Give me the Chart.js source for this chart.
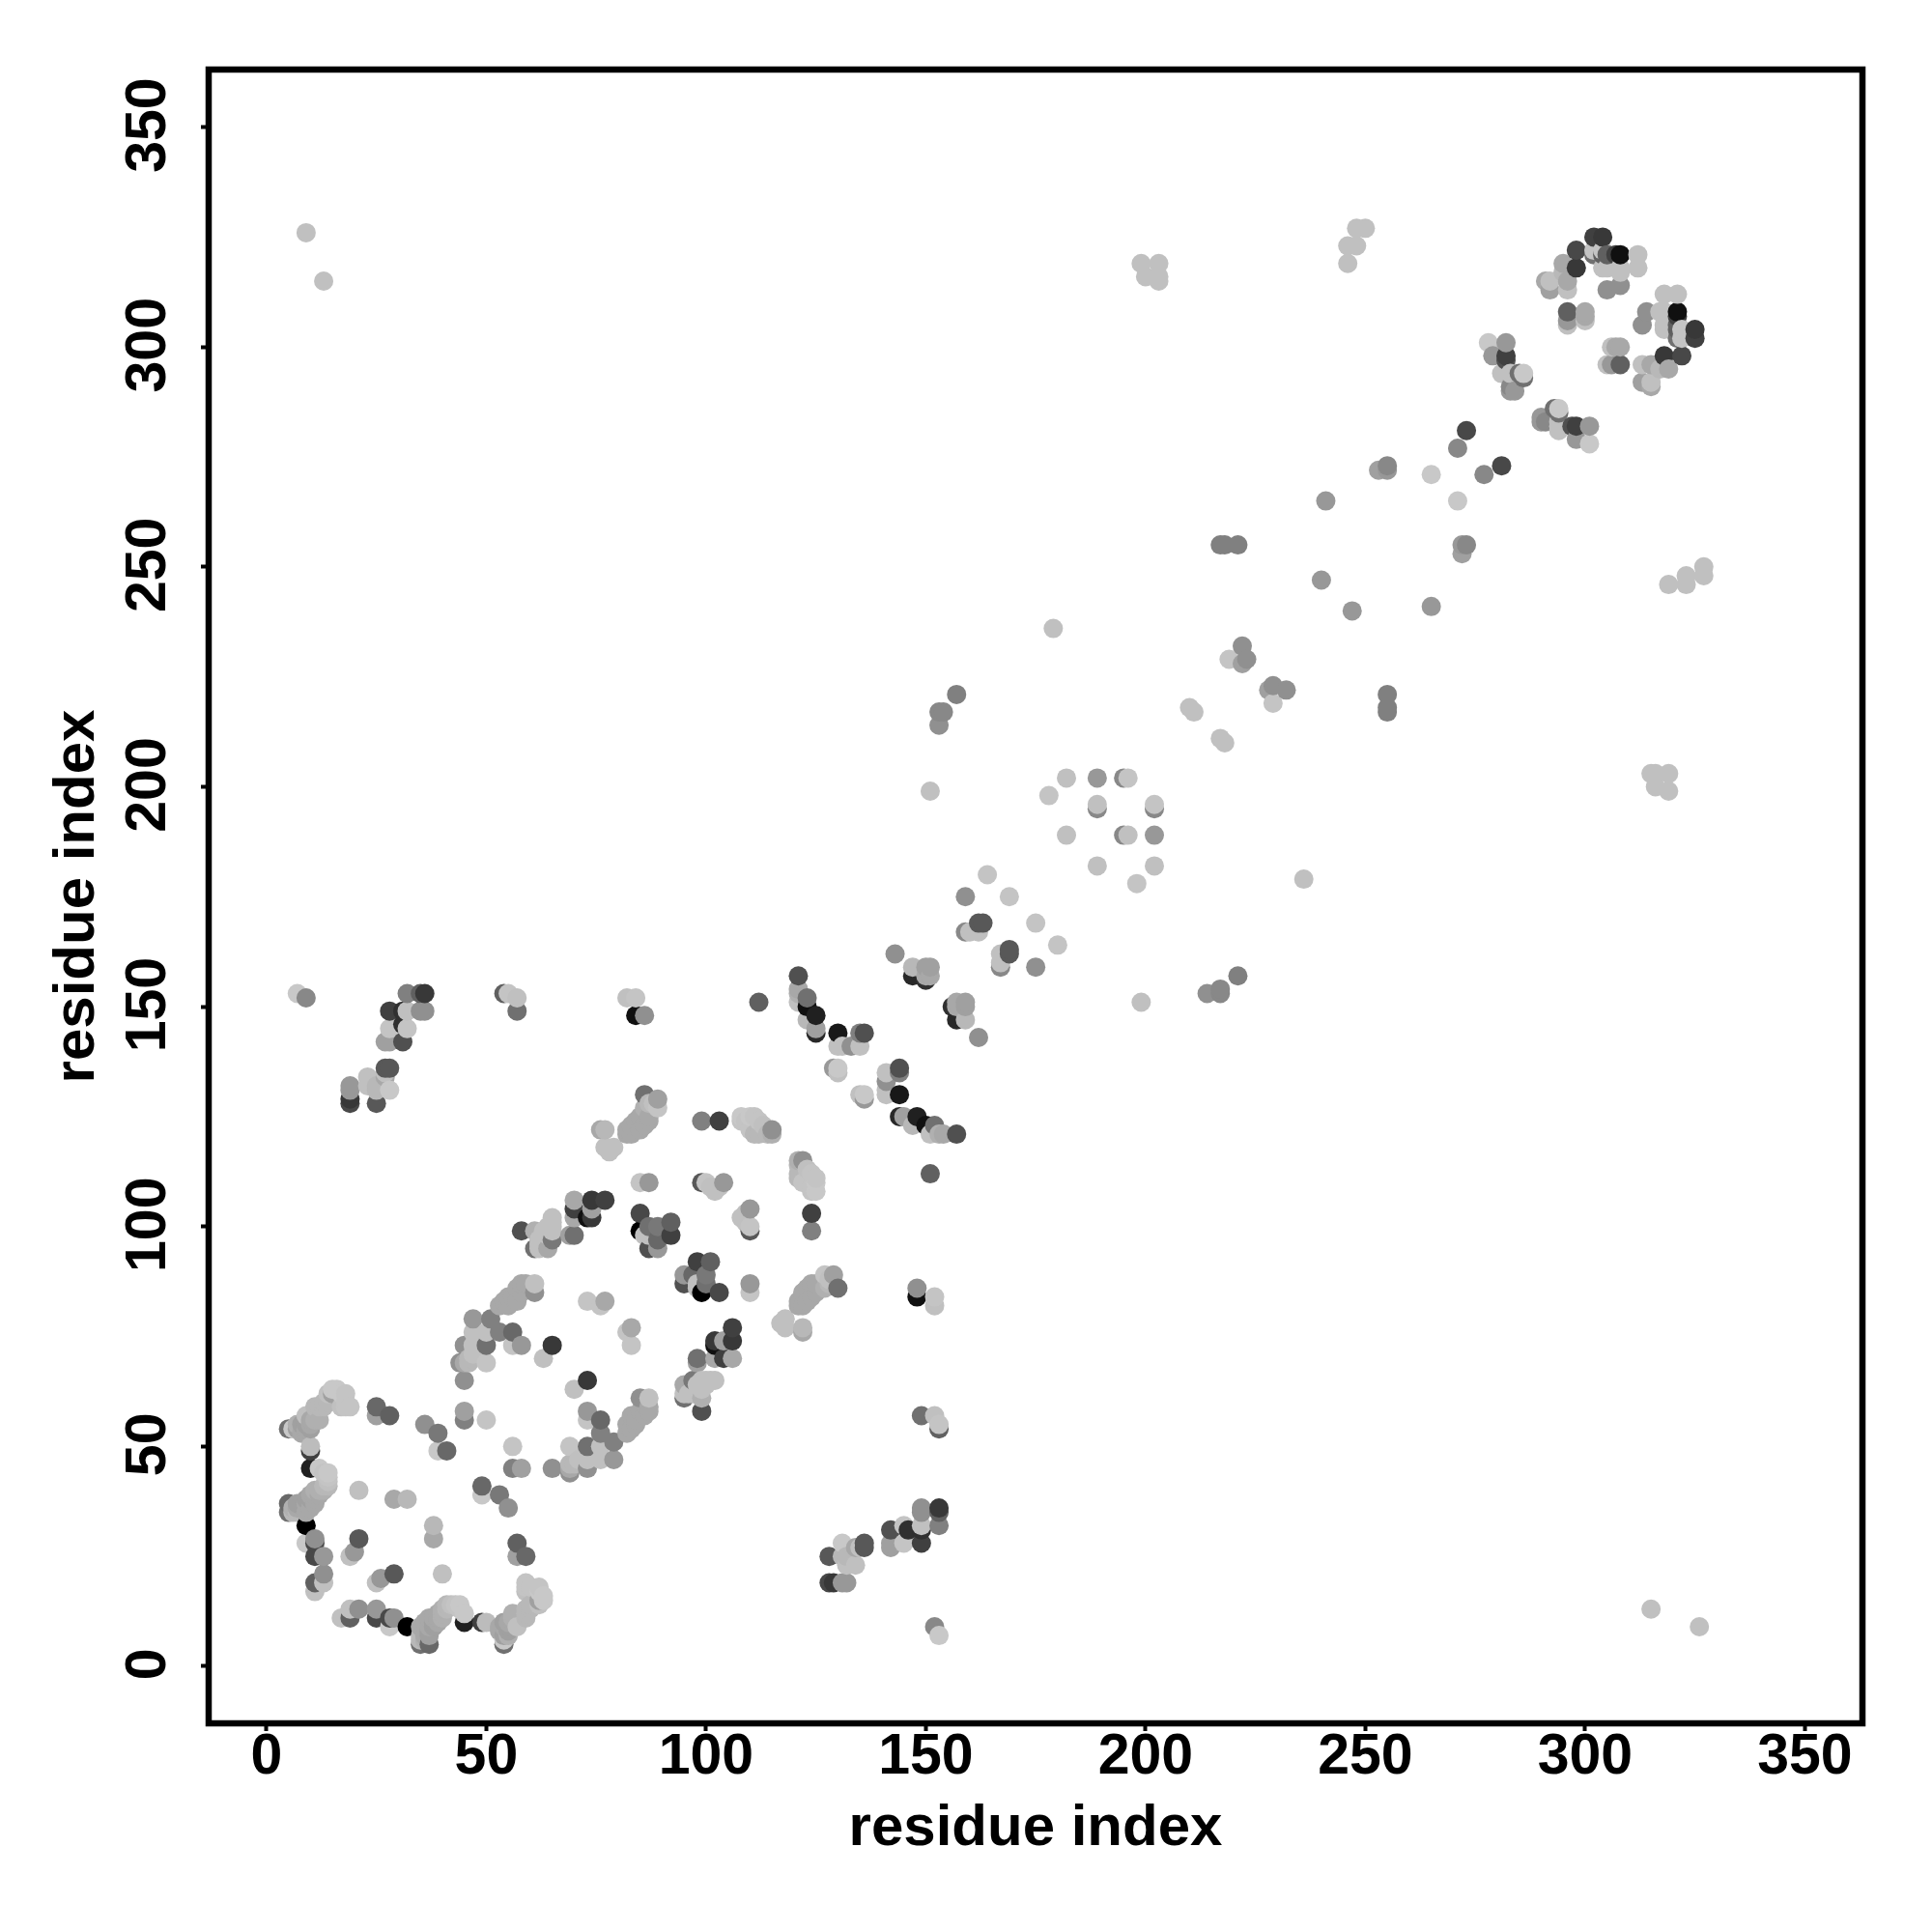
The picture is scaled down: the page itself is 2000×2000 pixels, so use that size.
<!DOCTYPE html>
<html>
<head>
<meta charset="utf-8">
<title>residue contact map</title>
<script src="https://cdn.jsdelivr.net/npm/chart.js@4"></script>
<style>
	html, body { margin: 0; padding: 0; background: #ffffff; }
	canvas { display: block; }
</style>
</head>
<body>
<canvas id="contactMap" width="2000" height="2000"></canvas>
<script>
const tickValues = [0, 50, 100, 150, 200, 250, 300, 350];
const axisLabel = "residue index";

// contacts, one line per group; the map is symmetric so only i < j is listed
const residueI = [
	5, 5, 5, 6, 6, 6, 7, 7, 7, 7, 7, 7,
	8, 8, 8, 9, 9, 9, 9, 9, 9, 9, 9, 9, 9, 9,
	10, 10, 10, 10, 10, 10, 10, 10, 10,
	11, 11, 11, 11, 11, 11, 11, 11, 11, 11, 11,
	12, 12, 12, 12, 12,
	13, 13, 13, 13, 13, 13, 13, 13, 13,
	14, 14, 14, 14, 14, 14, 15, 15, 16, 17, 17, 18, 18, 18,
	19, 19, 19, 19, 19, 19, 20, 21, 21, 23, 23,
	25, 25, 25, 25, 25, 27, 27, 27, 27,
	28, 28, 28, 28, 28, 28, 29, 31, 31, 31,
	32, 32, 32, 32, 35, 35, 36, 36, 36,
	39, 39, 41, 44, 45, 45, 45, 45, 45, 46, 46,
	47, 47, 47, 47, 50, 50, 50, 50, 51, 53, 53,
	54, 54, 55, 55, 55, 56, 56, 56,
	57, 57, 57, 57, 58, 58, 58, 58, 59,
	61, 61, 61, 61, 62, 62, 62, 63, 63, 63,
	64, 64, 64, 65, 65, 65, 65, 65, 65,
	69, 70, 70, 70, 70, 73, 73, 74, 74, 74, 76, 76,
	77, 77, 77, 77, 78, 79, 82, 82, 82, 83, 83,
	84, 84, 84, 85, 85, 85, 85, 85,
	86, 86, 86, 86, 86, 87, 87, 87, 87, 87, 87, 87, 88,
	89, 89, 89, 89, 89, 92, 92,
	99, 99, 100, 101, 102, 103, 103, 104,
	108, 108, 109, 110, 110, 111, 111, 112, 112, 112, 113, 114, 115, 115,
	121, 121, 121, 121, 123, 123, 123, 125, 125, 125,
	129, 130, 130, 130, 130, 131, 133, 135, 135, 136,
	143, 147, 147, 150, 150, 150, 151, 151, 151,
	153, 153, 154, 157, 159, 159, 160, 162, 162, 163, 164, 169,
	178, 179, 182, 182, 189, 189, 189, 195, 196,
	199, 200, 203, 203, 203, 210, 211, 217, 218, 221,
	219, 222, 222, 223, 240, 241,
	246, 246, 248, 248, 250, 253, 255, 255, 265, 271, 273,
	278, 279, 281, 282, 282, 282, 282, 283, 283, 283, 284, 285, 286, 286,
	291, 292, 292, 295, 295, 296, 296, 296, 296, 296,
	298, 298, 300, 300, 300, 302, 302, 302, 304, 304, 304, 304,
	305, 305, 305, 307, 308, 308, 308, 308, 312, 312
];
const residueJ = [
	35, 37, 54, 35, 36, 54, 35, 36, 37, 54, 55, 153,
	37, 53, 55, 28, 32, 35, 37, 38, 53, 54, 55, 57, 152, 326,
	36, 38, 39, 45, 49, 50, 54, 55, 56,
	17, 19, 25, 28, 29, 37, 38, 39, 40, 56, 59,
	39, 40, 45, 56, 59,
	19, 21, 25, 40, 41, 44, 59, 60, 315,
	41, 42, 43, 44, 60, 62, 62, 63, 63, 59, 62, 59, 60, 62,
	25, 59, 128, 129, 131, 132, 26, 29, 40, 132, 134,
	57, 59, 128, 131, 132, 134, 135, 136, 142,
	57, 131, 136, 142, 145, 149, 38, 142, 146, 149,
	38, 145, 149, 153, 149, 153, 55, 149, 153,
	49, 53, 49, 69, 56, 58, 65, 69, 73, 69, 70,
	71, 73, 76, 79, 56, 69, 73, 76, 79, 76, 82,
	83, 153, 82, 84, 153, 73, 76, 84,
	83, 86, 149, 152, 73, 85, 87, 99, 87,
	85, 87, 95, 99, 95, 96, 97, 70, 97, 99,
	95, 98, 100, 73, 97, 99, 100, 101, 102,
	98, 98, 102, 104, 106, 83, 102, 102, 104, 106, 82, 122,
	83, 106, 118, 122, 117, 118, 121, 122, 152, 121, 123,
	124, 148, 152, 99, 103, 110, 122, 125,
	98, 123, 127, 130, 148, 95, 98, 100, 110, 124, 125, 128, 128,
	95, 97, 100, 127, 129, 98, 101,
	110, 124, 110, 109, 108, 109, 124, 110,
	124, 125, 124, 122, 125, 121, 125, 121, 124, 151, 123, 121, 121, 122,
	151, 153, 154, 157, 147, 150, 152, 144, 145, 148,
	136, 135, 136, 141, 144, 141, 141, 141, 144, 144,
	162, 157, 159, 156, 157, 159, 157, 159, 199,
	214, 217, 217, 221, 167, 175, 167, 167, 169, 169, 180, 175,
	198, 236, 189, 202, 195, 196, 202, 202, 202,
	319, 316, 315, 316, 319, 218, 217, 255, 255, 255,
	229, 228, 232, 229, 247, 265,
	319, 323, 323, 327, 327, 272, 272, 273, 271, 277, 281,
	301, 298, 294, 294, 297, 298, 301, 290, 291, 294, 290, 294, 293, 294,
	315, 313, 315, 317, 319, 305, 306, 308, 313, 315,
	318, 322, 306, 307, 308, 321, 322, 325, 318, 321, 322, 325,
	313, 318, 321, 321, 314, 317, 318, 321, 318, 321
];
const shade = [
	0x70, 0x68, 0x70, 0xb8, 0xb0, 0xc8, 0xb8, 0xa8, 0xa0, 0xa0, 0xb0, 0xc8,
	0xa0, 0xa8, 0xa0, 0xc8, 0x00, 0xa8, 0xa8, 0xa0, 0xa8, 0xa8, 0xa0, 0xc0, 0x88, 0xc0,
	0xa8, 0xa0, 0xa8, 0x20, 0x40, 0xbc, 0xa0, 0xa8, 0xa8,
	0xc0, 0x60, 0x48, 0x48, 0x90, 0xa8, 0xa8, 0xa8, 0xb0, 0xb0, 0xb8,
	0xa8, 0xb0, 0xc8, 0xb0, 0xb8,
	0xc0, 0x90, 0x98, 0xb0, 0xb8, 0xc4, 0xb8, 0xb8, 0xc0,
	0xb8, 0xc0, 0xc4, 0xc8, 0xb8, 0xc0, 0xa0, 0xc8, 0xc8, 0xc0, 0xc8, 0xc4, 0xc4, 0xc4,
	0xc0, 0xc4, 0x48, 0x38, 0x98, 0x98, 0x98, 0x58, 0xc0, 0xc0, 0xc0,
	0xa0, 0x68, 0x58, 0xb8, 0xb8, 0xa8, 0xc0, 0x58, 0xa0,
	0x60, 0xc8, 0x58, 0xa0, 0xc4, 0x40, 0xa8, 0x50, 0x30, 0x30,
	0xb8, 0xc4, 0xc0, 0x80, 0x90, 0x60, 0x90, 0x90, 0x38,
	0xc8, 0x78, 0x68, 0x90, 0x80, 0xa0, 0x90, 0xa8, 0x90, 0xb8, 0xb8,
	0xc0, 0xc0, 0xc0, 0x98, 0xc4, 0xc4, 0x70, 0xc0, 0x80, 0x80, 0xa8,
	0xa8, 0x60, 0xa8, 0xa8, 0xc4, 0xc4, 0x68, 0xa8,
	0xa8, 0xa8, 0x70, 0xc0, 0x98, 0xa8, 0xa8, 0x50, 0xa8,
	0x90, 0xc0, 0x70, 0xb0, 0xc0, 0xc0, 0xc0, 0xc0, 0xc0, 0xc0,
	0xa8, 0xc0, 0xc0, 0x38, 0x78, 0xc0, 0xc0, 0xc0, 0xc0,
	0xa0, 0x70, 0xa8, 0x40, 0xa8, 0xc4, 0x10, 0x38, 0xa0, 0x38, 0xc4, 0xa8,
	0xa8, 0x40, 0xc0, 0xb8, 0xc0, 0xc0, 0xa8, 0xa8, 0xc0, 0xa8, 0xa8,
	0xa8, 0x10, 0xc4, 0x00, 0x48, 0xc4, 0xa8, 0xa8,
	0xc0, 0xa8, 0xb0, 0x70, 0x90, 0x50, 0xc0, 0x70, 0x98, 0xa8, 0xa8, 0xb8, 0xc0,
	0x98, 0x68, 0x78, 0xc4, 0xa0, 0x40, 0x60,
	0x58, 0x80, 0xc4, 0xc0, 0xc0, 0xc0, 0x40, 0x98,
	0xc4, 0xc8, 0xc4, 0xc4, 0xc8, 0xb8, 0xc4, 0xb8, 0xc4, 0x60, 0xc0, 0xb8, 0xb0, 0x90,
	0xc0, 0xb0, 0xa8, 0x50, 0xb8, 0x10, 0x70, 0x28, 0xa0, 0x20,
	0x98, 0xc0, 0xc8, 0xc0, 0x18, 0xc0, 0x90, 0xc0, 0x80, 0x50,
	0x90, 0x28, 0xb8, 0x30, 0xa8, 0xa0, 0xa8, 0xa0, 0xc0,
	0x90, 0x88, 0x88, 0x80, 0x88, 0x90, 0xc0, 0xc0, 0x58, 0x58, 0xc4, 0xc4,
	0xc4, 0xc0, 0xc0, 0xc0, 0x88, 0xc0, 0x98, 0x88, 0xc4,
	0xc0, 0xc0, 0xc0, 0xc0, 0xc0, 0xc0, 0xc0, 0x80, 0x80, 0x80,
	0xc4, 0xa0, 0x90, 0x90, 0x98, 0x98,
	0xc0, 0xc0, 0xc0, 0xc0, 0xc0, 0xa0, 0x98, 0x88, 0xc8, 0x88, 0x48,
	0xc8, 0x98, 0xc0, 0xc0, 0x50, 0x40, 0x98, 0x98, 0x88, 0xc0, 0x98, 0x70, 0x70, 0xc8,
	0xa8, 0xa0, 0xc0, 0xb8, 0xa8, 0xc0, 0x98, 0x60, 0xc0, 0xa8,
	0x38, 0x48, 0xc0, 0xa8, 0xa8, 0x70, 0xc4, 0x40, 0xc0, 0x60, 0xc4, 0x38,
	0x90, 0xc0, 0x60, 0x40, 0x90, 0xc0, 0xc0, 0x10, 0xc0, 0xc0
];

// both halves of the map, drawn in order of x then y like the original plot
const contacts = [];
residueI.forEach((i, k) => {
	contacts.push({ x: i, y: residueJ[k], grey: shade[k] });
	contacts.push({ x: residueJ[k], y: i, grey: shade[k] });
});
contacts.sort((a, b) => a.x - b.x || a.y - b.y);

const labelFont = { family: "'Liberation Sans', Arial, sans-serif", size: 59, weight: "bold" };
const titleFont = { family: "'Liberation Sans', Arial, sans-serif", size: 60, weight: "bold" };

const boxOutline = {
	id: "boxOutline",
	afterDatasetsDraw(chart) {
		const { ctx, chartArea } = chart;
		ctx.save();
		ctx.strokeStyle = "#000000";
		ctx.lineWidth = 6.5;
		ctx.lineJoin = "miter";
		ctx.strokeRect(chartArea.left, chartArea.top, chartArea.right - chartArea.left, chartArea.bottom - chartArea.top);
		ctx.restore();
	},
};

function useTickValues(scale) {
	scale.ticks = tickValues.map((v) => ({ value: v }));
}

new Chart("contactMap", {
	type: "scatter",
	data: {
		datasets: [
			{
				data: contacts,
				pointRadius: 10,
				pointBorderWidth: 0,
				pointBackgroundColor: contacts.map((c) => `rgb(${c.grey}, ${c.grey}, ${c.grey})`),
			},
		],
	},
	options: {
		responsive: false,
		animation: false,
		devicePixelRatio: 1,
		layout: { padding: { left: 0, right: 72, top: 72, bottom: 0 } },
		plugins: {
			legend: { display: false },
			tooltip: { enabled: false },
		},
		scales: {
			x: {
				type: "linear",
				min: -13.17,
				max: 363.1,
				afterBuildTicks: useTickValues,
				afterFit(scale) {
					scale.height = 216;
				},
				border: { display: false },
				grid: { drawOnChartArea: false, tickLength: 8, tickWidth: 4, tickColor: "#000000" },
				ticks: {
					autoSkip: false,
					maxRotation: 0,
					minRotation: 0,
					padding: -8,
					color: "#000000",
					font: labelFont,
				},
				title: {
					display: true,
					text: axisLabel,
					color: "#000000",
					font: titleFont,
					padding: { top: 0, bottom: 71 },
				},
			},
			y: {
				type: "linear",
				min: -12.97,
				max: 363.1,
				afterBuildTicks: useTickValues,
				afterFit(scale) {
					scale.width = 216;
				},
				border: { display: false },
				grid: { drawOnChartArea: false, tickLength: 8, tickWidth: 4, tickColor: "#000000" },
				ticks: {
					autoSkip: false,
					minRotation: 90,
					maxRotation: 90,
					crossAlign: "center",
					padding: 4,
					labelOffset: -2,
					color: "#000000",
					font: labelFont,
				},
				title: {
					display: true,
					text: axisLabel,
					color: "#000000",
					font: titleFont,
					padding: { top: 44, bottom: 0 },
				},
			},
		},
	},
	plugins: [boxOutline],
});
</script>
</body>
</html>
